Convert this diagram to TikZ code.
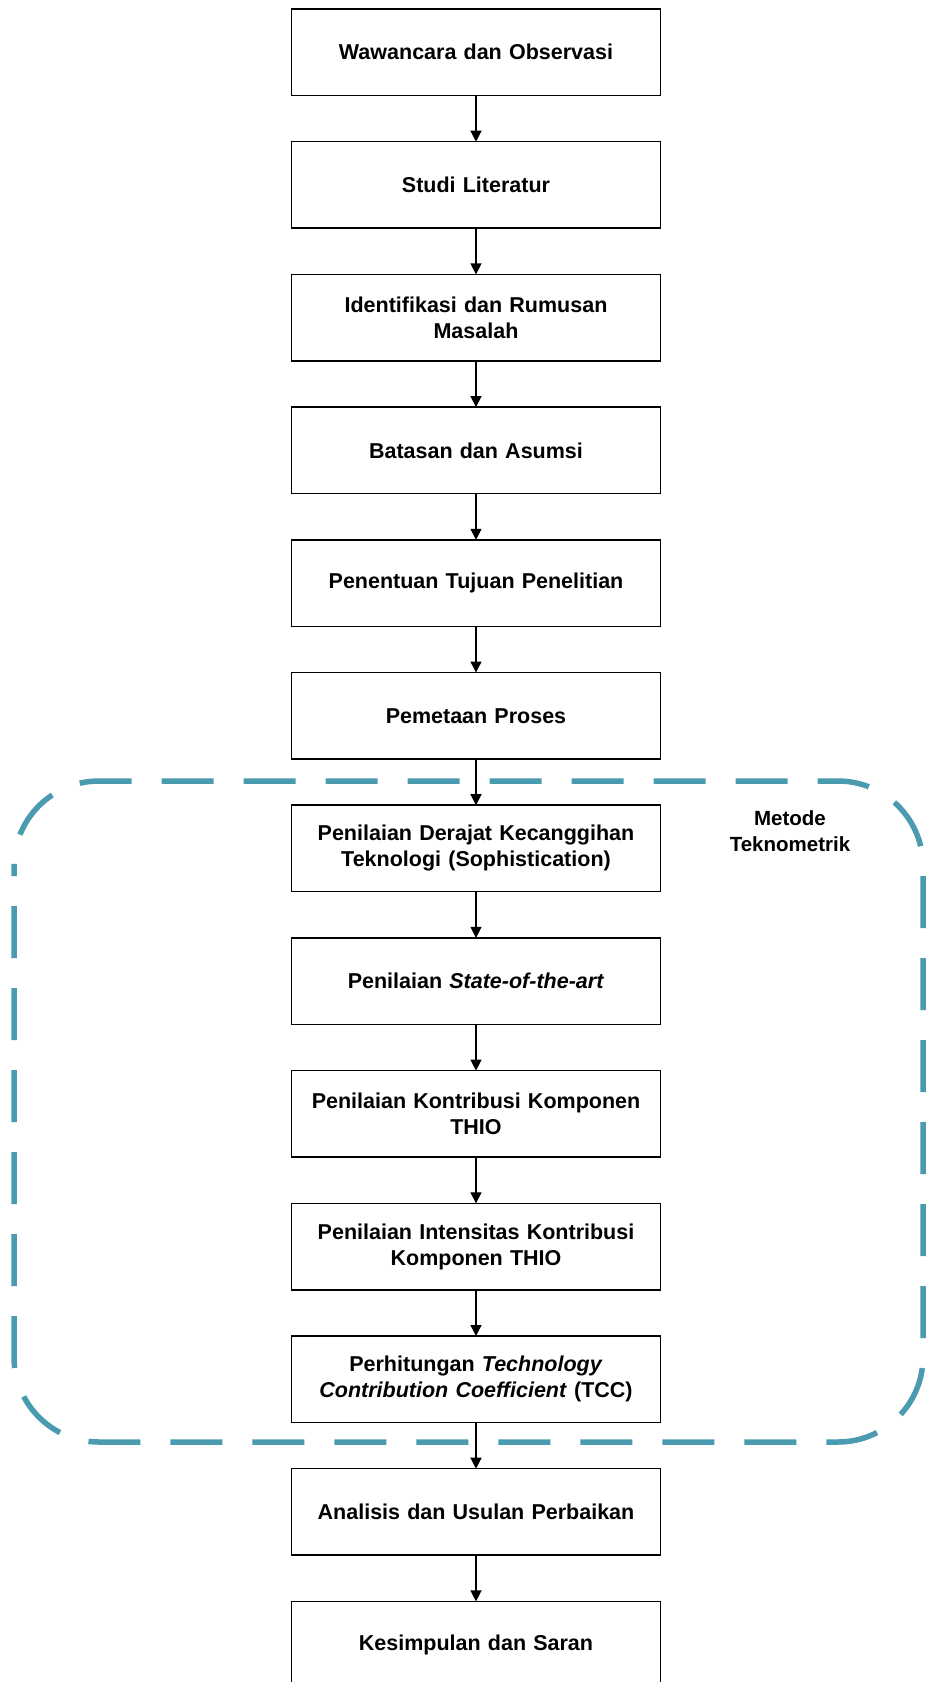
\documentclass[tikz,border=0pt]{standalone}
\usepackage{fontspec}
\setmainfont{Liberation Sans}
\usetikzlibrary{positioning,arrows.meta}
\definecolor{teknoblue}{RGB}{74,154,176}
\begin{document}
\begin{tikzpicture}[x=1pt,y=-1pt,
    node distance=46.2pt,
    stepbox/.style={draw,line width=1.5pt,outer sep=0pt,inner sep=0pt,
        minimum width=369pt,minimum height=86.5pt,text width=355pt,align=center,
        font=\fontsize{21.5}{26}\selectfont\bfseries},
    flow/.style={-{Triangle[width=11pt,length=11pt]},line width=1.3pt},
    tekno/.style={draw=teknoblue,line width=5.5pt,rounded corners=85pt,
        dash pattern=on 52pt off 30pt,dash phase=-40pt}]
    \useasboundingbox (0,0) rectangle (930,1682);

    \draw[tekno] (14,781) rectangle (923,1442);
    \node[align=center,font=\fontsize{20.5}{26}\selectfont\bfseries] (metode) at (790,831) {Metode\\Teknometrik};

    \node[stepbox] (wawancara) at (476,52.25) {Wawancara dan Observasi};
    \node[stepbox,below=of wawancara] (studi) {Studi Literatur};
    \node[stepbox,below=of studi] (identifikasi) {Identifikasi dan Rumusan\\Masalah};
    \node[stepbox,below=of identifikasi] (batasan) {Batasan dan Asumsi};
    \node[stepbox,below=of batasan] (tujuan) {Penentuan Tujuan Penelitian};
    \node[stepbox,below=of tujuan] (pemetaan) {Pemetaan Proses};
    \node[stepbox,below=of pemetaan] (sophis) {Penilaian Derajat Kecanggihan\\Teknologi (Sophistication)};
    \node[stepbox,below=of sophis] (sota) {Penilaian \textit{State-of-the-art}};
    \node[stepbox,below=of sota] (kontribusi) {Penilaian Kontribusi Komponen\\THIO};
    \node[stepbox,below=of kontribusi] (intensitas) {Penilaian Intensitas Kontribusi\\Komponen THIO};
    \node[stepbox,below=of intensitas] (tcc) {Perhitungan \textit{Technology}\\\textit{Contribution Coefficient} (TCC)};
    \node[stepbox,below=of tcc] (analisis) {Analisis dan Usulan Perbaikan};
    \node[stepbox,below=of analisis] (kesimpulan) {Kesimpulan dan Saran};

    \foreach \a/\b in {wawancara/studi,studi/identifikasi,identifikasi/batasan,
        batasan/tujuan,tujuan/pemetaan,pemetaan/sophis,sophis/sota,sota/kontribusi,
        kontribusi/intensitas,intensitas/tcc,tcc/analisis,analisis/kesimpulan}
        \draw[flow] (\a) -- (\b);

\end{tikzpicture}
\end{document}
